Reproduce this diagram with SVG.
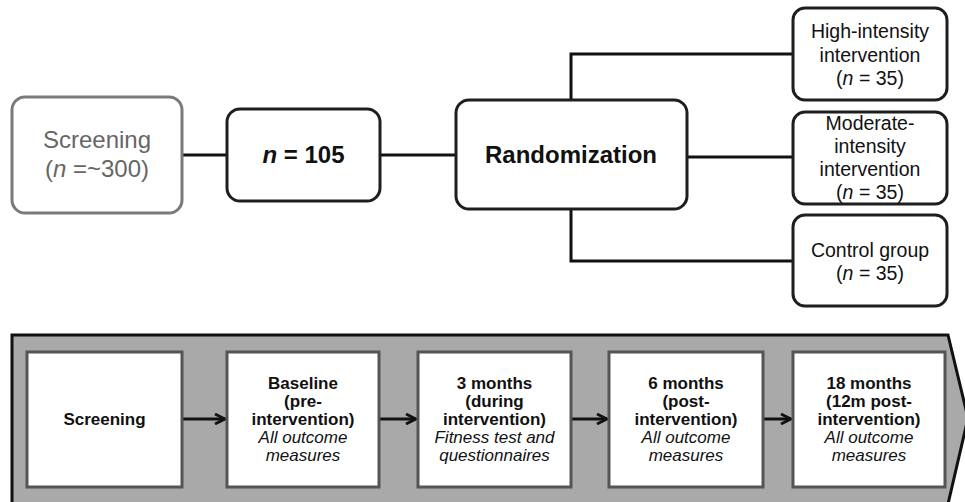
<svg xmlns="http://www.w3.org/2000/svg" width="965" height="502" viewBox="0 0 965 502">
<style>
text{font-family:"Liberation Sans",Arial,sans-serif;text-anchor:middle}
.top{fill:#fff;stroke:#1e1e1e;stroke-width:3}
.gray{fill:#fff;stroke:#7a7a7a;stroke-width:3}
.inner{fill:#fff;stroke:#555;stroke-width:3}
.t24{font-size:24px;fill:#111}
.t20{font-size:19.5px;fill:#111}
.b{font-weight:bold}
.i{font-style:italic}
.s{font-size:17px;fill:#111}
.line{fill:none;stroke:#111;stroke-width:3}
</style>
<defs>
<marker id="ah" viewBox="0 0 12 12" refX="11" refY="6" markerWidth="12" markerHeight="12" markerUnits="userSpaceOnUse" orient="auto">
<path d="M1,1 L11,6 L1,11" fill="none" stroke="#111" stroke-width="2.8"/>
</marker>
</defs>
<g id="timeline-bg">
<path d="M12,335 L948,335 L968,418 L948,504 L12,504 Z" fill="#a9a9a9" stroke="#111" stroke-width="3"/>
</g>
<g id="connectors">
<path class="line" d="M182,155 H227"/>
<path class="line" d="M380,155 H456"/>
<path class="line" d="M571,100 V54 H793"/>
<path class="line" d="M687,157 H793"/>
<path class="line" d="M571,209 V261 H793"/>
<path class="line" d="M182,419 H225" marker-end="url(#ah)"/>
<path class="line" d="M379,419 H416" marker-end="url(#ah)"/>
<path class="line" d="M571,419 H607" marker-end="url(#ah)"/>
<path class="line" d="M763,419 H791" marker-end="url(#ah)"/>
</g>
<g id="screening-top">
<rect class="gray" x="12" y="97" width="170" height="116" rx="13"/>
<text class="t24" x="97" y="148" style="fill:#666">Screening</text>
<text class="t24" x="97" y="177" style="fill:#666">(<tspan class="i">n</tspan> =~300)</text>
</g>
<g id="n105">
<rect class="top" x="227" y="109" width="153" height="92" rx="13"/>
<text class="t24 b" x="303.5" y="163"><tspan class="i">n</tspan> = 105</text>
</g>
<g id="randomization">
<rect class="top" x="456" y="100" width="231" height="109" rx="13"/>
<text class="t24 b" x="571" y="163">Randomization</text>
</g>
<g id="high">
<rect class="top" x="793" y="8" width="154" height="92" rx="12"/>
<text class="t20" x="870" y="38">High-intensity</text>
<text class="t20" x="870" y="62">intervention</text>
<text class="t20" x="870" y="85">(<tspan class="i">n</tspan> = 35)</text>
</g>
<g id="moderate">
<rect class="top" x="793" y="112" width="154" height="92" rx="12"/>
<text class="t20" x="870" y="130">Moderate-</text>
<text class="t20" x="870" y="153">intensity</text>
<text class="t20" x="870" y="176">intervention</text>
<text class="t20" x="870" y="199">(<tspan class="i">n</tspan> = 35)</text>
</g>
<g id="control">
<rect class="top" x="793" y="215" width="154" height="91" rx="12"/>
<text class="t20" x="870" y="257">Control group</text>
<text class="t20" x="870" y="280">(<tspan class="i">n</tspan> = 35)</text>
</g>
<g id="screening-step">
<rect class="inner" x="27" y="352" width="155" height="135"/>
<text class="s b" x="104.5" y="425">Screening</text>
</g>
<g id="baseline">
<rect class="inner" x="227" y="352" width="152" height="135"/>
<text class="s b" x="303" y="389">Baseline</text>
<text class="s b" x="303" y="407">(pre-</text>
<text class="s b" x="303" y="425">intervention)</text>
<text class="s i" x="303" y="443">All outcome</text>
<text class="s i" x="303" y="461">measures</text>
</g>
<g id="m3">
<rect class="inner" x="418" y="352" width="153" height="135"/>
<text class="s b" x="494.5" y="389">3 months</text>
<text class="s b" x="494.5" y="407">(during</text>
<text class="s b" x="494.5" y="425">intervention)</text>
<text class="s i" x="494.5" y="443">Fitness test and</text>
<text class="s i" x="494.5" y="461">questionnaires</text>
</g>
<g id="m6">
<rect class="inner" x="609" y="352" width="154" height="135"/>
<text class="s b" x="686" y="389">6 months</text>
<text class="s b" x="686" y="407">(post-</text>
<text class="s b" x="686" y="425">intervention)</text>
<text class="s i" x="686" y="443">All outcome</text>
<text class="s i" x="686" y="461">measures</text>
</g>
<g id="m18">
<rect class="inner" x="793" y="352" width="152" height="135"/>
<text class="s b" x="869" y="389">18 months</text>
<text class="s b" x="869" y="407">(12m post-</text>
<text class="s b" x="869" y="425">intervention)</text>
<text class="s i" x="869" y="443">All outcome</text>
<text class="s i" x="869" y="461">measures</text>
</g>
</svg>
